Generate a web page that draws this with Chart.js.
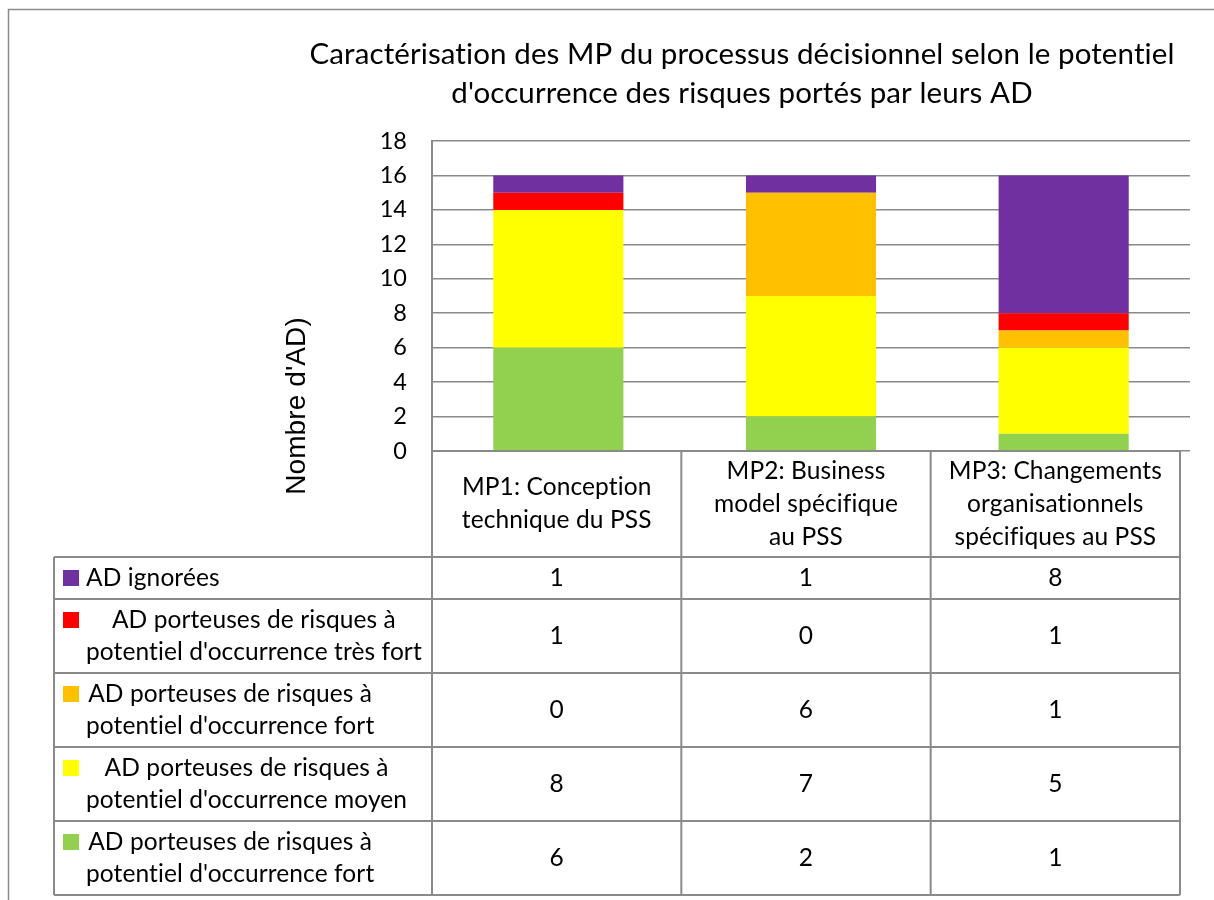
<!DOCTYPE html>
<html>
<head>
<meta charset="utf-8">
<script src="https://cdn.jsdelivr.net/npm/chart.js@4/dist/chart.umd.min.js"></script>
<style>
  html, body { margin: 0; padding: 0; background: #ffffff; }
  canvas { display: block; }
</style>
</head>
<body>
<canvas id="chart" width="1214" height="900"></canvas>
<script>
// Categories (one entry per MP, split into the lines shown in the table header)
const categories = [
  ["MP1: Conception", "technique du PSS"],
  ["MP2: Business", "model spécifique", "au PSS"],
  ["MP3: Changements", "organisationnels", "spécifiques au PSS"]
];

// Series values, one list per series (bottom of the stack first)
const adFortVert   = [6, 2, 1];
const adMoyen      = [8, 7, 5];
const adFort       = [0, 6, 1];
const adTresFort   = [1, 0, 1];
const adIgnorees   = [1, 1, 8];

// Series labels, as wrapped in the data table
const labelFortVert = ["AD porteuses de risques à", "potentiel d'occurrence fort"];
const labelMoyen    = ["AD porteuses de risques à", "potentiel d'occurrence moyen"];
const labelFort     = ["AD porteuses de risques à", "potentiel d'occurrence fort"];
const labelTresFort = ["AD porteuses de risques à", "potentiel d'occurrence très fort"];
const labelIgnorees = ["AD ignorées"];

// Value axis ticks
const yMin = 0;
const yMax = 18;
const yStep = 2;

const titleLines = [
  "Caractérisation des MP du processus décisionnel selon le potentiel",
  "d'occurrence des risques portés par leurs AD"
];
const yAxisTitle = "Nombre d'AD)";

const FONT = "Lato";
const LINE = "#8a8a8a";

function makeSet(lines, data, color) {
  return {
    label: lines.join(" "),
    lines: lines,
    data: data,
    backgroundColor: color,
    borderWidth: 0,
    categoryPercentage: 1,
    barPercentage: 0.515
  };
}

// a tiny letter spacing keeps the canvas from forming "ti" ligatures
function noLigatures(ctx) {
  if ("letterSpacing" in ctx) ctx.letterSpacing = "0.1px";
}

// Frame, title, axis title and the data table with legend keys
const decorations = {
  id: "decorations",
  afterDraw(chart) {
    const ctx = chart.ctx;
    const area = chart.chartArea;
    ctx.save();
    noLigatures(ctx);

    // outer frame
    ctx.strokeStyle = LINE;
    ctx.lineWidth = 1.5;
    ctx.strokeRect(8.5, 9.5, 1400, 1000);

    // title
    ctx.fillStyle = "#000";
    ctx.textAlign = "center";
    ctx.textBaseline = "alphabetic";
    ctx.font = "29.5px " + FONT;
    ctx.fillText(titleLines[0], 742, 64);
    ctx.fillText(titleLines[1], 742, 103);

    // vertical axis title
    ctx.save();
    ctx.translate(297, 406);
    ctx.rotate(-Math.PI / 2);
    ctx.font = "28px 'Liberation Sans'";
    ctx.textBaseline = "middle";
    ctx.fillText(yAxisTitle, 0, 0);
    ctx.restore();

    // data table
    const headTop = area.bottom;
    const headH = 106;
    const legLeft = 54;
    const colLeft = area.left;
    const tableRight = 1180;
    const colW = (tableRight - colLeft) / categories.length;
    const rows = chart.data.datasets.slice().reverse();
    const rowTops = [];
    let y = headTop + headH;
    rows.forEach(ds => { rowTops.push(y); y += 10 + 32 * ds.lines.length; });
    const tableBottom = y;

    ctx.strokeStyle = LINE;
    ctx.lineWidth = 2;
    ctx.beginPath();
    for (let i = 0; i <= categories.length; i++) {
      const x = colLeft + i * colW;
      ctx.moveTo(x, headTop);
      ctx.lineTo(x, tableBottom);
    }
    ctx.moveTo(legLeft, headTop + headH);
    ctx.lineTo(legLeft, tableBottom);
    ctx.moveTo(colLeft, headTop);
    ctx.lineTo(tableRight, headTop);
    rowTops.concat([tableBottom]).forEach(t => {
      ctx.moveTo(legLeft, t);
      ctx.lineTo(tableRight, t);
    });
    ctx.stroke();

    ctx.fillStyle = "#000";
    ctx.font = "24.5px " + FONT;
    ctx.textBaseline = "middle";
    ctx.textAlign = "center";

    // header: category names
    categories.forEach((lines, i) => {
      const cx = colLeft + (i + 0.5) * colW;
      const cy = headTop + headH / 2;
      lines.forEach((t, k) => {
        ctx.fillText(t, cx, cy + (k - (lines.length - 1) / 2) * 33);
      });
    });

    // rows: legend key, label and values
    rows.forEach((ds, r) => {
      const top = rowTops[r];
      const h = 10 + 32 * ds.lines.length;
      const cy = top + h / 2;
      const n = ds.lines.length;
      const lineY = k => cy + (k - (n - 1) / 2) * 32;

      ctx.fillStyle = ds.backgroundColor;
      ctx.fillRect(63, lineY(0) - 8, 16, 16);

      ctx.fillStyle = "#000";
      const textLeft = 86;
      if (n === 1) {
        ctx.textAlign = "left";
        ctx.fillText(ds.lines[0], textLeft, lineY(0));
      } else {
        const w = Math.max(...ds.lines.map(t => ctx.measureText(t).width));
        ctx.textAlign = "center";
        ds.lines.forEach((t, k) => ctx.fillText(t, textLeft + w / 2, lineY(k)));
      }

      ctx.textAlign = "center";
      ds.data.forEach((v, i) => {
        ctx.fillText(String(v), colLeft + (i + 0.5) * colW, cy);
      });
    });

    ctx.restore();
  }
};

function build() {
  new Chart(document.getElementById("chart"), {
    type: "bar",
    data: {
      labels: categories.map(l => l.join(" ")),
      datasets: [
        makeSet(labelFortVert, adFortVert, "#92D050"),
        makeSet(labelMoyen, adMoyen, "#FFFF00"),
        makeSet(labelFort, adFort, "#FFC000"),
        makeSet(labelTresFort, adTresFort, "#FF0000"),
        makeSet(labelIgnorees, adIgnorees, "#7030A0")
      ]
    },
    options: {
      responsive: false,
      animation: false,
      devicePixelRatio: 1,
      layout: { padding: { left: 372, top: 141, right: 24, bottom: 449 } },
      plugins: {
        legend: { display: false },
        title: { display: false },
        tooltip: { enabled: false }
      },
      scales: {
        x: {
          stacked: true,
          display: false,
          grid: { display: false }
        },
        y: {
          stacked: true,
          min: yMin,
          max: yMax,
          ticks: {
            stepSize: yStep,
            padding: 25,
            color: "#000",
            font: { family: FONT, size: 23.5 }
          },
          grid: { color: LINE, lineWidth: 1.6, drawTicks: false },
          border: { display: true, color: LINE, width: 2 },
          afterFit(scale) { scale.width = 60; }
        }
      }
    },
    plugins: [decorations]
  });
}

if (document.fonts && document.fonts.load) {
  Promise.all([
    document.fonts.load("22px Lato"),
    document.fonts.load("28px 'Liberation Sans'")
  ]).then(build, build);
} else {
  build();
}
</script>
</body>
</html>
